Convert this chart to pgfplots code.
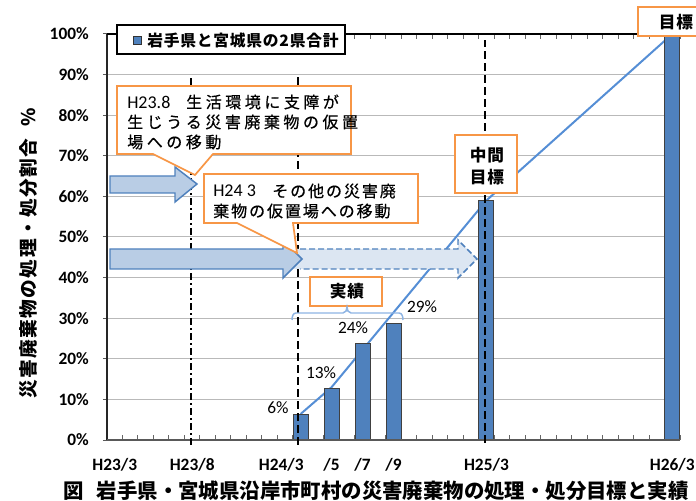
\documentclass[border=0pt]{standalone}
\usepackage{fontspec}
\setmainfont{Carlito}
\newfontfamily\jp{Noto Sans CJK JP}
\newfontfamily\jpA[LetterSpace=22,FakeBold=0.5]{Noto Sans CJK JP}
\newfontfamily\jpB[LetterSpace=12,FakeBold=0.5]{Noto Sans CJK JP}
\newfontfamily\jpL[LetterSpace=5]{Noto Sans CJK JP}
\newfontfamily\jpY[LetterSpace=8]{Noto Sans CJK JP}
\usepackage{pgfplots}
\pgfplotsset{compat=1.18}
\definecolor{barblue}{HTML}{4F81BD}
\definecolor{orng}{HTML}{F79646}
\definecolor{arrfill}{HTML}{B9CDE5}
\definecolor{arrfill2}{HTML}{DCE6F2}
\definecolor{bracec}{HTML}{8EB4E3}
\definecolor{lineblue}{HTML}{558ED5}
\begin{document}
\begin{tikzpicture}
\useasboundingbox (0,0) rectangle (522pt,375pt);
\begin{axis}[
  at={(80.25pt,45pt)}, anchor=south west,
  scale only axis, width=429.75pt, height=304.5pt,
  xmin=-0.5, xmax=36.5, ymin=0, ymax=100,
  clip=false,
  axis line style={draw=none},
  xtick={0,5,10.75,14,16,18,24,36},
  xticklabels={H23/3,H23/8,H24/3,/5,/7,/9,H25/3,H26/3},
  minor xtick={-0.5,0.5,...,36.5},
  tick align=inside,
  major tick length=0pt,
  minor tick length=3.75pt,
  minor x tick style={draw=gray!80!black, line width=0.75pt},
  ytick={0,10,...,100},
  yticklabel={\pgfmathprintnumber{\tick}\%},
  /pgf/number format/assume math mode=true,
  ymajorgrids,
  grid style={draw=gray!55, line width=0.75pt},
  xticklabel style={font=\bfseries\fontsize{13pt}{14pt}\selectfont, anchor=center, yshift=-18.75pt, inner sep=0pt},
  yticklabel style={font=\bfseries\fontsize{13pt}{14pt}\selectfont, anchor=east, xshift=-13.5pt, inner sep=0pt},
]
\addplot[lineblue, line width=1.5pt, mark=none] coordinates {(12,6.4) (14,13) (24,59) (36,100)};
\addplot[ybar, bar width=11.25pt, fill=barblue, draw=black!75, line width=0.75pt] coordinates {(12,6.4) (14,12.7) (16,23.8) (18,28.7) (24,59.1) (36,100)};
\pgfplotsinvokeforeach{0,10,...,100}{\draw[gray!70!black, line width=0.75pt] ([xshift=-3pt]axis cs:-0.5,#1) -- (axis cs:-0.5,#1);}
\draw[black!85, line width=1.1pt] (axis cs:-0.5,0) -- (axis cs:-0.5,100);
\draw[black, line width=1.1pt] (axis cs:-0.5,100) -- (axis cs:36.5,100);
\draw[gray!70!black, line width=1.1pt] (axis cs:-0.5,0) -- (axis cs:36.5,0);
\draw[black, line width=1.5pt, dash pattern=on 5.25pt off 2.25pt on 1.5pt off 2.25pt] (axis cs:4.92,-1.2) -- (axis cs:4.92,89.7);
\draw[black, line width=1.5pt, dash pattern=on 6pt off 3pt] (axis cs:11.85,-1.2) -- (axis cs:11.85,89.7);
\draw[black, line width=1.5pt, dash pattern=on 6pt off 3pt] (axis cs:23.93,-0.7) -- (axis cs:23.93,98.5);
\end{axis}
\begin{scope}[x=0.75pt, y=-0.75pt, shift={(0pt,375pt)}]
% dashed arrow
\fill[arrfill2] (283,249) -- (458,249) -- (458,240) -- (477,259) -- (458,278) -- (458,269) -- (283,269) -- cycle;
\draw[barblue, line width=1.1pt, dash pattern=on 4.5pt off 2.25pt] (300,249) -- (458,249) -- (458,240) -- (477,259) -- (458,278) -- (458,269) -- (300,269);
% solid arrows
\filldraw[fill=arrfill, draw=barblue, line width=1.1pt] (110,249) -- (283,249) -- (283,240) -- (302,259) -- (283,278) -- (283,269) -- (110,269) -- cycle;
\filldraw[fill=arrfill, draw=barblue, line width=1.1pt] (110,176) -- (175,176) -- (175,167) -- (197,184) -- (175,202) -- (175,193) -- (110,193) -- cycle;
% callout 1
\filldraw[fill=white, draw=orng, line width=1.3pt] (117,86) -- (351,86) -- (351,154) -- (213,154) -- (195,175) -- (153,154) -- (117,154) -- cycle;
\node[anchor=west, inner sep=0pt, font=\fontsize{13.5pt}{14pt}\selectfont] at (127,102) {H23.8};
\node[anchor=west, inner sep=0pt, font=\jpA\fontsize{12pt}{13pt}\selectfont] at (186,102) {生活環境に支障が};
\node[anchor=west, inner sep=0pt, font=\jpA\fontsize{12pt}{13pt}\selectfont] at (127,122) {生じうる災害廃棄物の仮置};
\node[anchor=west, inner sep=0pt, font=\jpA\fontsize{12pt}{13pt}\selectfont] at (127,142) {場への移動};
% callout 2
\filldraw[fill=white, draw=orng, line width=1.3pt] (204,174) -- (418,174) -- (418,223) -- (293,223) -- (297,253) -- (237,223) -- (204,223) -- cycle;
\node[anchor=west, inner sep=0pt, font=\fontsize{13.5pt}{14pt}\selectfont] at (213,191) {H24 3};
\node[anchor=west, inner sep=0pt, font=\jpB\fontsize{12pt}{13pt}\selectfont] at (272,191) {その他の災害廃};
\node[anchor=west, inner sep=0pt, font=\jpB\fontsize{12pt}{13pt}\selectfont] at (213,211) {棄物の仮置場への移動};
% legend
\draw[black, line width=0.9pt, fill=white] (117,25) rectangle (345,54);
\draw[black!80, line width=0.6pt, fill=barblue] (133,36.5) rectangle (141.5,44.5);
\node[anchor=west, inner sep=0pt, font=\jpL\bfseries\fontsize{11.8pt}{14pt}\selectfont] at (147,40) {岩手県と宮城県の2県合計};
% target boxes
\filldraw[fill=white, draw=orng, line width=1.5pt] (455,135) rectangle (517,193);
\node[inner sep=0pt, font=\jpL\bfseries\fontsize{12.5pt}{14pt}\selectfont] at (487,155) {中間};
\node[inner sep=0pt, font=\jpL\bfseries\fontsize{12.5pt}{14pt}\selectfont] at (487,177) {目標};
\filldraw[fill=white, draw=orng, line width=1.5pt] (638,7) rectangle (720,36);
\node[inner sep=0pt, font=\jpL\bfseries\fontsize{12.5pt}{14pt}\selectfont] at (676,22) {目標};
\filldraw[fill=white, draw=orng, line width=1.5pt] (310,277) rectangle (382,306);
\node[inner sep=0pt, font=\jpL\bfseries\fontsize{12.5pt}{14pt}\selectfont] at (347,291) {実績};
% brace
\draw[bracec, line width=1.1pt] (292,320) to[out=90,in=180] (296,313) -- (343,313) to[out=0,in=-90] (347,307) to[out=-90,in=180] (351,313) -- (399,313) to[out=0,in=90] (403,320);
% data labels
\node[inner sep=0pt, font=\fontsize{13pt}{14pt}\selectfont] at (278,408) {6\%};
\node[inner sep=0pt, font=\fontsize{13pt}{14pt}\selectfont] at (321,373) {13\%};
\node[inner sep=0pt, font=\fontsize{13pt}{14pt}\selectfont] at (353,328) {24\%};
\node[inner sep=0pt, font=\fontsize{13pt}{14pt}\selectfont] at (422,307) {29\%};
% y label
\node[rotate=90, inner sep=0pt, font=\jpY\bfseries\fontsize{14pt}{16pt}\selectfont] at (28,253.5) {災害廃棄物の処理・処分割合\hspace{9pt}\%};
% caption
\node[anchor=west, inner sep=0pt, font=\jp\bfseries\fontsize{15.3pt}{17pt}\selectfont] at (63,491) {図\hspace{10pt}岩手県・宮城県沿岸市町村の災害廃棄物の処理・処分目標と実績};
\end{scope}
\end{tikzpicture}
\end{document}
